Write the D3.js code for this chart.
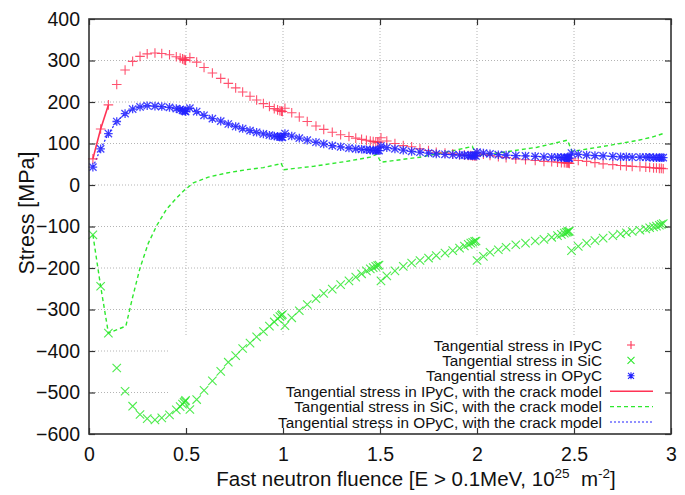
<!DOCTYPE html>
<html>
<head>
<meta charset="utf-8">
<script src="https://cdn.jsdelivr.net/npm/d3@7"></script>
<style>
body{margin:0;background:#fff;}
text{font-family:"Liberation Sans",Arial,Helvetica,sans-serif;fill:#111;}
</style>
</head>
<body>
<div id="plotdiv"></div>
<script>
// fluence steps [10^25 m^-2] shared by the three point series
var fluence = [
	0.02, 0.06, 0.10, 0.143, 0.186, 0.225, 0.263, 0.30, 0.34, 0.375, 0.415, 0.45, 0.47, 0.482, 0.49, 0.495, 0.498,
	0.52, 0.555, 0.593, 0.636, 0.679, 0.718, 0.756, 0.792, 0.83, 0.864, 0.899, 0.93, 0.955, 0.972, 0.984, 0.992, 0.997,
	1.01, 1.045, 1.084, 1.125, 1.17, 1.21, 1.254, 1.297, 1.34, 1.375, 1.405, 1.43, 1.45, 1.465, 1.478, 1.488, 1.495,
	1.505, 1.535, 1.577, 1.62, 1.663, 1.706, 1.75, 1.79, 1.835, 1.875, 1.91, 1.935, 1.955, 1.968, 1.978, 1.988, 1.995,
	2.0, 2.033, 2.067, 2.11, 2.15, 2.2, 2.25, 2.3, 2.345, 2.385, 2.415, 2.435, 2.45, 2.46, 2.467, 2.472, 2.476,
	2.487, 2.522, 2.565, 2.608, 2.65, 2.7, 2.74, 2.77, 2.8, 2.84, 2.87, 2.89, 2.91, 2.925, 2.94, 2.95, 2.96
];
var ipyc = [
	63, 135, 193, 242, 277, 298, 310, 316, 318, 317, 314, 309, 306, 304, 302, 301, 300,
	307, 296, 283, 270, 257, 245, 234, 224, 214, 205, 196, 189, 184, 181, 179, 178, 177,
	185, 174, 164, 153, 142, 134, 127, 121, 117, 113, 110, 108, 106, 105, 104, 103, 103,
	114, 106, 100, 95, 92, 87, 83, 79, 77, 75, 73, 72, 71, 71, 70, 70, 70,
	77, 74, 71, 68, 66, 63, 61, 59, 57, 56, 55, 54, 54, 53, 53, 53, 52,
	63, 59, 57, 54, 51, 49, 47, 46, 45, 44, 43, 42, 41, 41, 40, 40, 39
];
var sic = [
	-120, -244, -357, -441, -497, -533, -553, -563, -566, -561, -554, -542, -534, -528, -524, -521, -519,
	-541, -517, -495, -472, -449, -427, -411, -394, -381, -366, -353, -340, -330, -322, -317, -314, -312,
	-339, -320, -303, -288, -274, -261, -251, -240, -231, -222, -214, -207, -202, -199, -196, -194, -193,
	-231, -219, -207, -196, -188, -182, -176, -170, -164, -158, -152, -147, -143, -140, -138, -136, -135,
	-182, -172, -162, -156, -150, -144, -140, -135, -131, -126, -122, -119, -116, -114, -113, -112, -111,
	-158, -148, -140, -134, -128, -122, -118, -115, -112, -109, -106, -103, -101, -99, -97, -95, -93
];
var opyc = [
	43, 87, 124, 153, 172, 183, 188, 191, 190, 189, 187, 184, 182, 180, 179, 178, 177,
	185, 177, 168, 160, 154, 147, 141, 136, 131, 127, 123, 120, 118, 117, 116, 116, 115,
	124, 118, 113, 108, 103, 99, 95, 92, 89, 87, 86, 85, 84, 84, 83, 83, 83,
	94, 90, 87, 84, 81, 79, 77, 75, 74, 73, 72, 72, 71, 71, 71, 71, 70,
	79, 77, 75, 73, 72, 71, 70, 69, 68, 67, 67, 66, 66, 66, 66, 65, 65,
	77, 74, 72, 71, 70, 69, 68, 68, 67, 67, 67, 67, 66, 66, 66, 66, 66
];

// crack model curves
var ipycCrackX = [0.02, 0.06, 0.10];
var ipycCrack = [63, 135, 193];
var sicCrackX = [0.02, 0.06, 0.10, 0.19, 0.225, 0.263, 0.306, 0.35, 0.40, 0.45, 0.495,
	0.538, 0.615, 0.71, 0.813, 0.899, 0.975, 0.99, 1.005, 1.156, 1.328, 1.448, 1.483,
	1.505, 1.706, 1.85, 1.976, 1.997, 2.136, 2.31, 2.466, 2.49, 2.651, 2.823, 2.9, 2.96];
var sicCrack = [-120, -244, -357, -340, -270, -200, -140, -97, -58, -32, -11,
	5, 19, 29, 37, 42, 50, 53, 37, 45, 57, 67, 74,
	55, 67, 80, 93, 71, 79, 91, 108, 81, 93, 107, 115, 124];
// the OPyC crack model curve runs on top of the OPyC points
var opycCrackX = fluence;
var opycCrack = opyc;

var xTicks = [0, 0.5, 1, 1.5, 2, 2.5, 3];
var yTicks = [-600, -500, -400, -300, -200, -100, 0, 100, 200, 300, 400];
var legendLabels = [
	"Tangential stress in IPyC",
	"Tangential stress in SiC",
	"Tangential stress in OPyC",
	"Tangential stress in IPyC, with the crack model",
	"Tangential stress in SiC, with the crack model",
	"Tangential stress in OPyC, with the crack model"
];

drawChart();

function drawChart()
{
	var red = "#ff3355", green = "#2ee82e", blue = "#2222ff";
	var width = 685, height = 495;
	var pLeft = 89, pRight = 671, pTop = 19, pBottom = 434;

	var svg = d3.select("#plotdiv").append("svg")
		.attr("width", width)
		.attr("height", height);

	var x = d3.scaleLinear().domain([0, 3]).range([pLeft, pRight]);
	var y = d3.scaleLinear().domain([-600, 400]).range([pBottom, pTop]);

	// grid
	var grid = svg.append("g")
		.attr("stroke", "#b4b4b4")
		.attr("stroke-width", 1)
		.attr("stroke-dasharray", "1,2");
	grid.selectAll("line.gy")
		.data(yTicks.slice(1, -1))
		.enter().append("line")
		.attr("class", "gy")
		.attr("x1", pLeft).attr("x2", pRight)
		.attr("y1", function(d){return y(d);}).attr("y2", function(d){return y(d);});
	grid.selectAll("line.gx")
		.data(xTicks.slice(1, -1))
		.enter().append("line")
		.attr("class", "gx")
		.attr("y1", pTop).attr("y2", pBottom)
		.attr("x1", function(d){return x(d);}).attr("x2", function(d){return x(d);});

	// opaque key area
	svg.append("rect")
		.attr("x", 170).attr("y", 336)
		.attr("width", pRight - 170).attr("height", pBottom - 336)
		.attr("fill", "#fff");

	function marker(type, s)
	{
		if(type == "plus") return "M" + (-s) + ",0H" + s + "M0," + (-s) + "V" + s;
		if(type == "cross") return "M" + (-s) + "," + (-s) + "L" + s + "," + s + "M" + (-s) + "," + s + "L" + s + "," + (-s);
		return marker("plus", s) + marker("cross", s * 0.85);
	}

	var line = d3.line()
		.x(function(d){return x(d[0]);})
		.y(function(d){return y(d[1]);});

	var plot = svg.append("g");

	// crack model curves
	plot.append("path")
		.attr("d", line(d3.zip(opycCrackX, opycCrack)))
		.attr("fill", "none").attr("stroke", blue)
		.attr("stroke-width", 1.2).attr("stroke-dasharray", "2,2");
	plot.append("path")
		.attr("d", line(d3.zip(sicCrackX, sicCrack)))
		.attr("fill", "none").attr("stroke", green)
		.attr("stroke-width", 1.4).attr("stroke-dasharray", "4,3");
	plot.append("path")
		.attr("d", line(d3.zip(ipycCrackX, ipycCrack)))
		.attr("fill", "none").attr("stroke", red)
		.attr("stroke-width", 1.6);

	// point series
	var series = [
		{vals: ipyc, type: "plus", color: red, size: 4.8, w: 1.1},
		{vals: sic, type: "cross", color: green, size: 4.2, w: 1.1},
		{vals: opyc, type: "star", color: blue, size: 4.3, w: 1.3}
	];
	series.forEach(function(s){
		plot.append("g")
			.selectAll("path")
			.data(d3.zip(fluence, s.vals))
			.enter().append("path")
			.attr("transform", function(d){return "translate(" + x(d[0]) + "," + y(d[1]) + ")";})
			.attr("d", marker(s.type, s.size))
			.attr("fill", "none")
			.attr("stroke", s.color)
			.attr("stroke-width", s.w)
			.attr("stroke-opacity", 0.85);
	});

	// axes with inward ticks on all four sides
	function styleAxis(g)
	{
		g.select(".domain").remove();
		g.selectAll(".tick line").attr("stroke", "#333").attr("stroke-width", 1.2);
		g.selectAll("text").attr("font-size", 19.5).attr("font-family", "'Liberation Sans',Arial,sans-serif").attr("fill", "#111");
	}
	svg.append("g").attr("transform", "translate(" + pLeft + ",0)")
		.call(d3.axisLeft(y).tickValues(yTicks).tickSizeInner(-6).tickSizeOuter(0).tickPadding(9).tickFormat(d3.format("d")))
		.call(styleAxis);
	svg.append("g").attr("transform", "translate(" + pRight + ",0)")
		.call(d3.axisRight(y).tickValues(yTicks).tickSizeInner(-6).tickSizeOuter(0).tickFormat(""))
		.call(styleAxis);
	svg.append("g").attr("transform", "translate(0," + pBottom + ")")
		.call(d3.axisBottom(x).tickValues(xTicks).tickSizeInner(-6).tickSizeOuter(0).tickPadding(13).tickFormat(d3.format("")))
		.call(styleAxis);
	svg.append("g").attr("transform", "translate(0," + pTop + ")")
		.call(d3.axisTop(x).tickValues(xTicks).tickSizeInner(-6).tickSizeOuter(0).tickFormat(""))
		.call(styleAxis);

	svg.append("rect")
		.attr("x", pLeft).attr("y", pTop)
		.attr("width", pRight - pLeft).attr("height", pBottom - pTop)
		.attr("fill", "none").attr("stroke", "#333").attr("stroke-width", 1.6);

	// axis titles
	svg.append("text")
		.attr("transform", "translate(27,213) rotate(-90)")
		.attr("text-anchor", "middle")
		.attr("dominant-baseline", "central")
		.attr("font-size", 21.5)
		.text("Stress [MPa]");

	var xt = svg.append("text")
		.attr("x", 416).attr("y", 486)
		.attr("text-anchor", "middle")
		.attr("font-size", 20.5);
	xt.append("tspan").text("Fast neutron fluence [E > 0.1MeV, 10");
	xt.append("tspan").attr("font-size", 13.5).attr("dy", -8).text("25");
	xt.append("tspan").attr("dy", 8).text("\u00a0 m");
	xt.append("tspan").attr("font-size", 13.5).attr("dy", -8).text("-2");
	xt.append("tspan").attr("dy", 8).text("]");

	// key
	var key = svg.append("g");
	var keyStyles = [
		{type: "plus", color: red},
		{type: "cross", color: green},
		{type: "star", color: blue},
		{line: true, color: red, dash: null, w: 1.6},
		{line: true, color: green, dash: "4,3", w: 1.4},
		{line: true, color: blue, dash: "2,2", w: 1.2}
	];
	legendLabels.forEach(function(lbl, i){
		var ry = 345 + i * 15.4;
		key.append("text")
			.attr("x", 602).attr("y", ry)
			.attr("text-anchor", "end")
			.attr("dominant-baseline", "central")
			.attr("font-size", 15.3)
			.text(lbl);
		var st = keyStyles[i];
		if(st.line){
			key.append("line")
				.attr("x1", 610).attr("x2", 653)
				.attr("y1", ry).attr("y2", ry)
				.attr("stroke", st.color).attr("stroke-width", st.w)
				.attr("stroke-dasharray", st.dash);
		}
		else{
			key.append("path")
				.attr("transform", "translate(631," + ry + ")")
				.attr("d", marker(st.type, st.type == "plus" ? 4 : 3.5))
				.attr("fill", "none").attr("stroke", st.color).attr("stroke-width", 1.1);
		}
	});
}
</script>
</body>
</html>
